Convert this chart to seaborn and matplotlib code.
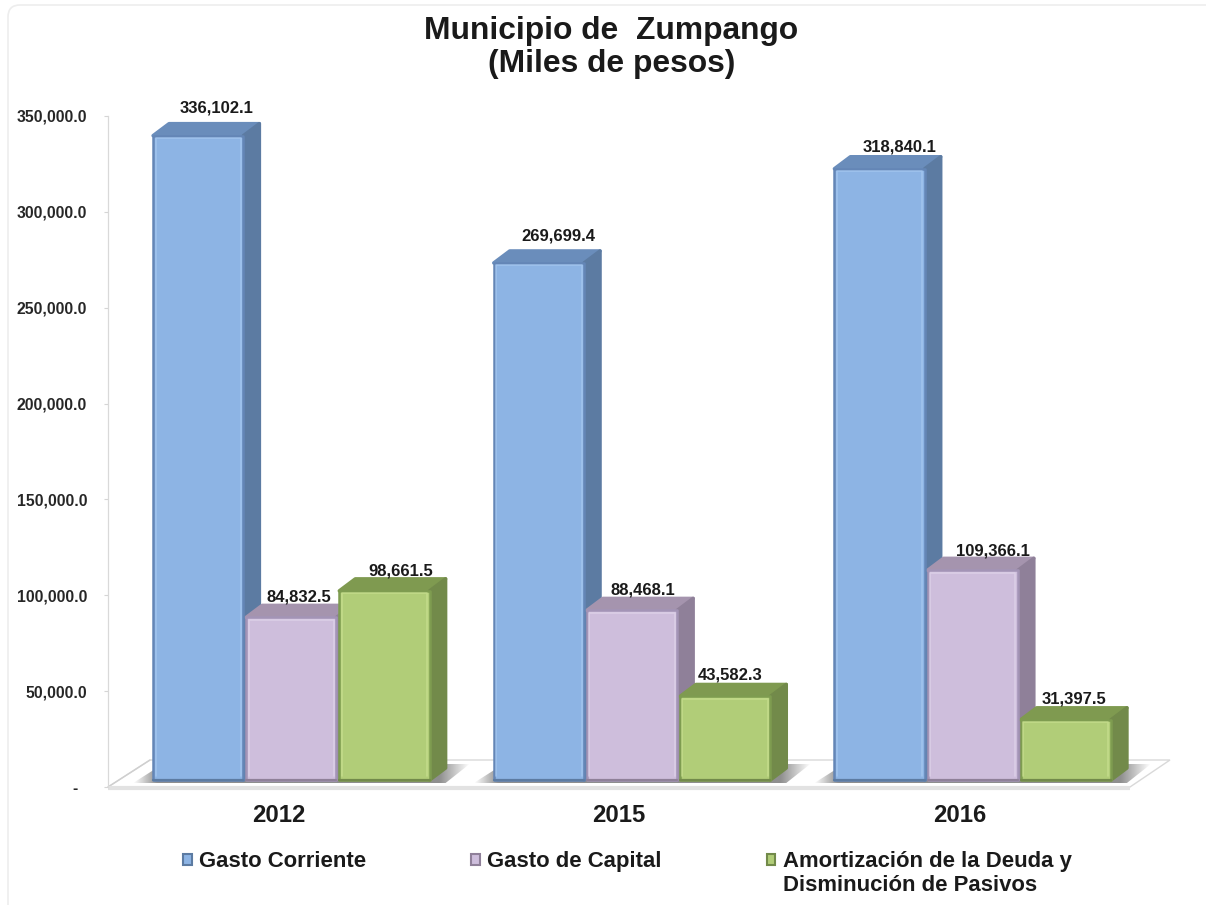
import numpy as np
import pandas as pd
import matplotlib
matplotlib.use("Agg")
import matplotlib.pyplot as plt
import seaborn as sns
from matplotlib.lines import Line2D
from matplotlib.patches import Patch, Polygon, FancyBboxPatch
from matplotlib.transforms import Affine2D

# datos
anios = ["2012", "2015", "2016"]
conceptos = ["Gasto Corriente", "Gasto de Capital",
             "Amortización de la Deuda y\nDisminución de Pasivos"]
gasto_corriente = [336102.1, 269699.4, 318840.1]
gasto_capital = [84832.5, 88468.1, 109366.1]
amortizacion = [98661.5, 43582.3, 31397.5]
y_ticks = [0, 50000, 100000, 150000, 200000, 250000, 300000, 350000]
y_labels = ["-  ", "50,000.0", "100,000.0", "150,000.0", "200,000.0",
            "250,000.0", "300,000.0", "350,000.0"]

# colores: frente, brillo, borde, lado, tapa
frente = ["#8DB4E4", "#CEBEDC", "#B1CD78"]
brillo = ["#A9CBF2", "#E2D6EC", "#CBE292"]
borde = ["#6486B6", "#A394B6", "#7E9C50"]
lado = ["#5C7BA2", "#8F8099", "#728A4A"]
tapa = ["#6A8DBB", "#A594AE", "#7F9A50"]

W, H = 1206, 905
BAR_SHIFT = (13, 7)     # el frente de la barra esta adelantado sobre el piso
DEPTH = (16, 12)
# ajuste fino de las etiquetas, en el orden de las series
label_nudge = [[(18, 23), (8, 16), (16, 15)],
               [(19, 22), (11, 16), (5, 17)],
               [(20, 17), (20, 15), (8, 16)]]

df = pd.DataFrame({
    "anio": anios * 3,
    "concepto": [c for c in conceptos for _ in anios],
    "valor": gasto_corriente + gasto_capital + amortizacion,
})

sns.set_style("white")
plt.rcParams["font.family"] = ["Liberation Sans", "DejaVu Sans"]
plt.rcParams["font.weight"] = "bold"

fig = plt.figure(figsize=(W / 100, H / 100), dpi=100, facecolor="white")

# capa de fondo en pixeles: marco, piso, sombras y caras laterales
bg = fig.add_axes([0, 0, 1, 1], zorder=0)
bg.set_xlim(0, W)
bg.set_ylim(H, 0)
bg.axis("off")
bg.add_patch(FancyBboxPatch((8, 5), W + 40, H + 40, boxstyle="round,pad=0,rounding_size=12",
                            fc="white", ec="#EDEDED", lw=1.2))

bg.add_patch(Polygon([(108, 787), (150, 760), (1170, 760), (1130, 787)],
                     closed=True, fc="white", ec="#D9D9D9", lw=1.0))
bg.plot([108, 150], [787, 760], color="#CFCFCF", lw=1.0)
bg.plot([108, 1130], [788, 788], color="#E2E2E2", lw=3, solid_capstyle="butt")

ax = fig.add_axes([108 / W, 1 - 787 / H, (1130 - 108) / W, (787 - 116) / H], zorder=1)
ax.patch.set_alpha(0)

sns.barplot(data=df, x="anio", y="valor", hue="concepto", hue_order=conceptos,
            order=anios, palette=frente, width=0.82, gap=0.03, legend=False,
            saturation=1, ax=ax)

ax.set_xlim(-0.5, 2.5)
ax.set_ylim(0, 350000)
ax.set_xlabel("")
ax.set_ylabel("")
ax.set_yticks(y_ticks)
ax.set_yticklabels(y_labels, fontsize=11.3, color="#262626", fontweight="bold")
ax.tick_params(axis="y", length=3, width=0.8, color="#D5D5D5", pad=12, left=True)
ax.tick_params(axis="x", length=0, labelsize=17.2, labelcolor="#1A1A1A", pad=12)
for lab in ax.get_xticklabels():
    lab.set_fontweight("bold")
for side in ["top", "right", "bottom"]:
    ax.spines[side].set_visible(False)
ax.spines["left"].set_color("#D9D9D9")
ax.spines["left"].set_linewidth(0.9)

shift = Affine2D().translate(*BAR_SHIFT)


def bar_px(bar):
    # esquinas de la barra en pixeles de la imagen, ya desplazadas
    x0, y0 = ax.transData.transform((bar.get_x(), 0))
    x1, y1 = ax.transData.transform((bar.get_x() + bar.get_width(), bar.get_height()))
    return x0 + BAR_SHIFT[0], x1 + BAR_SHIFT[0], H - y0 - BAR_SHIFT[1], H - y1 - BAR_SHIFT[1]


# sombra difusa de cada grupo sobre el piso
for g in range(len(anios)):
    first = bar_px(ax.containers[0][g])
    last = bar_px(ax.containers[2][g])
    sx0, sx1 = first[0] - 20, last[1] + 40
    xs = np.linspace(sx0, sx1, 400)
    ramp = np.clip(np.minimum((xs - sx0) / 24, (sx1 - xs) / 30), 0, 1)
    img = np.zeros((1, 400, 4))
    img[..., :3] = 0.45
    img[0, :, 3] = ramp * 0.8
    im = bg.imshow(img, extent=(sx0, sx1, 783, 762), aspect="auto", zorder=2, interpolation="bilinear")
    clip = Polygon([(sx0, 783), (sx0 + 30, 764), (sx1, 764), (sx1 - 24, 783)],
                   closed=True, transform=bg.transData)
    im.set_clip_path(clip)
bg.set_xlim(0, W)
bg.set_ylim(H, 0)

# caras 3D de izquierda a derecha, calculadas desde las barras del grafico
order = sorted([(g, s) for g in range(3) for s in range(3)])
for g, s in order:
    bar = ax.containers[s][g]
    x0, x1, yb, yt = bar_px(bar)
    dx, dy = DEPTH
    bg.add_patch(Polygon([(x0, yt), (x0 + dx, yt - dy), (x1 + dx, yt - dy), (x1, yt)], closed=True,
                         fc=tapa[s], ec=tapa[s], lw=2.5, joinstyle="round", zorder=3))
    bg.add_patch(Polygon([(x1, yt), (x1 + dx, yt - dy), (x1 + dx, yb - dy), (x1, yb)], closed=True,
                         fc=lado[s], ec=lado[s], lw=2.5, joinstyle="round", zorder=3))

# frente de las barras, con borde redondeado y brillo
for s, cont in enumerate(ax.containers):
    for g, bar in enumerate(cont):
        bar.set_transform(ax.transData + shift)
        bar.set_clip_on(False)
        bar.set_edgecolor(borde[s])
        bar.set_linewidth(1.8)
        bar.set_joinstyle("round")
        x0, x1, yb, yt = bar_px(bar)
        hl = Line2D([x0 + 2.5, x0 + 2.5, x1 - 2.5, x1 - 2.5],
                    [H - yb + 4, H - yt - 2.5, H - yt - 2.5, H - yb + 4],
                    color=brillo[s], lw=1.2, alpha=0.65, transform=None, solid_joinstyle="round")
        ax.add_line(hl)
        base = Line2D([x0, x1], [H - yb + 0.5, H - yb + 0.5], color=lado[s], lw=1.6,
                      transform=None, solid_capstyle="round")
        ax.add_line(base)
        nx, ny = label_nudge[g][s]
        ax.annotate(f"{bar.get_height():,.1f}",
                    xy=((x0 + x1) / 2 + nx, H - yt + ny), xycoords="figure pixels",
                    ha="center", va="baseline", fontsize=12, fontweight="bold",
                    color="#1A1A1A", annotation_clip=False)

fig.text(0.507, 1 - 31 / H, "Municipio de  Zumpango", ha="center", va="center",
         fontsize=22.9, fontweight="bold", color="#1A1A1A")
fig.text(0.507, 1 - 64 / H, "(Miles de pesos)", ha="center", va="center",
         fontsize=22.9, fontweight="bold", color="#1A1A1A")

# la leyenda lleva la primera linea de cada concepto; la segunda va debajo
handles = [Patch(facecolor=frente[i], edgecolor=lado[i], lw=1.5) for i in range(3)]
fig.legend(handles, [c.split("\n")[0] for c in conceptos], loc="upper left",
           bbox_to_anchor=(183 / W, 1 - 851 / H),
           ncol=3, frameon=False, handlelength=0.4, handleheight=0.4,
           handletextpad=0.32, columnspacing=4.76, borderpad=0, borderaxespad=0,
           labelcolor="#1A1A1A", prop={"weight": "bold", "size": 15.9})
fig.text(783 / W, 1 - 885.5 / H, conceptos[2].split("\n")[1], ha="left", va="center",
         fontsize=15.9, fontweight="bold", color="#1A1A1A")

fig.savefig("out.png", dpi=100)
